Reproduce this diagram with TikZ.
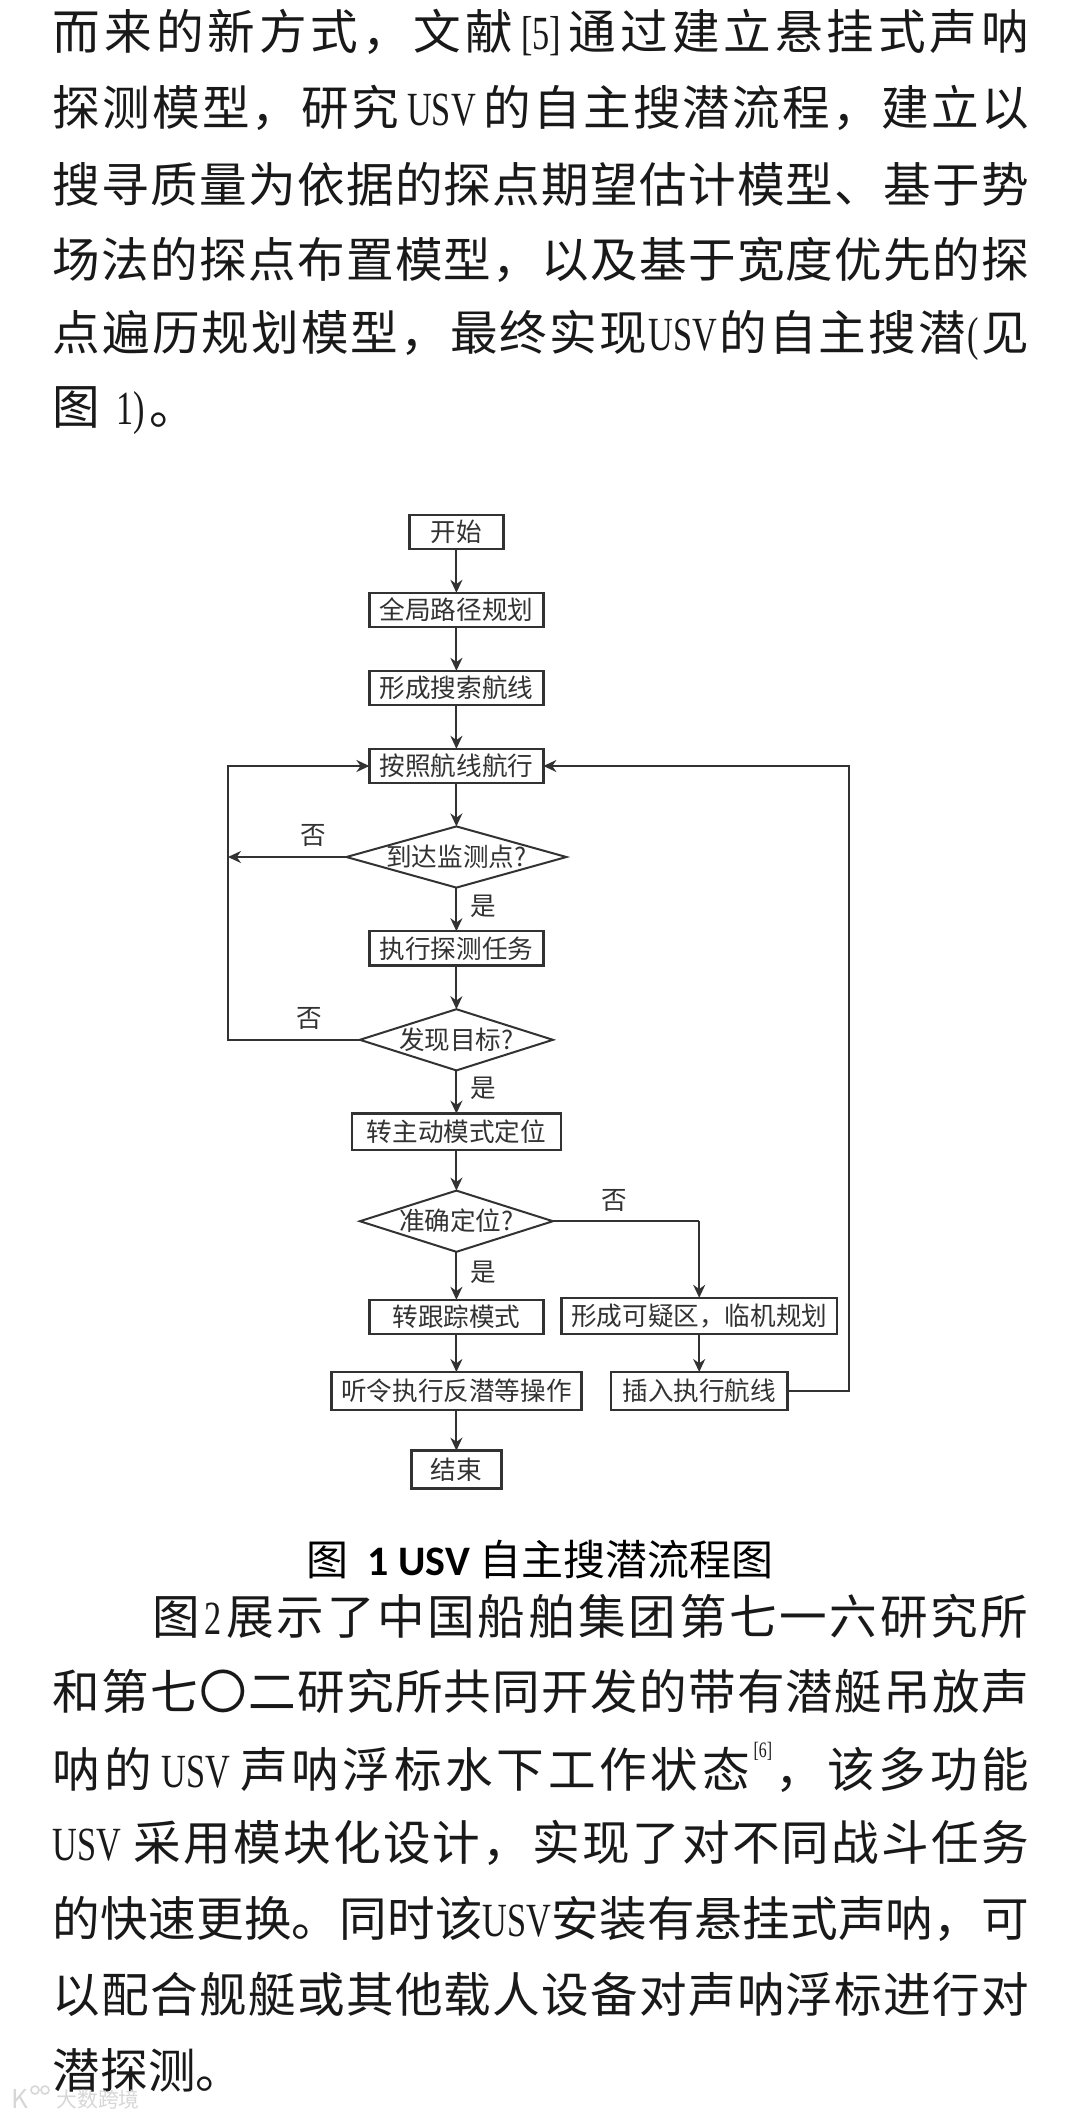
\documentclass[tikz,border=0pt]{standalone}
\usepackage{fontspec}
\usepackage{xcolor}
\usetikzlibrary{shapes.geometric,arrows.meta,positioning,calc}
\setmainfont{Noto Sans CJK SC}
\newfontfamily\latinpart[FakeStretch=0.72]{Liberation Serif}
\newfontfamily\capfont{Carlito}
\definecolor{flowink}{RGB}{50,50,50}
\definecolor{bodyink}{RGB}{25,25,25}
\definecolor{markgray}{RGB}{215,215,215}
\makeatletter
\newcommand{\spreadchars}[1]{#1\@ifnextchar\relax{\@gobble}{\hfil\spreadchars}}
\makeatother
\newcommand{\fullline}[1]{\hbox to 488pt{\spreadchars#1\relax}}
\newcommand{\indentline}[1]{\hbox to 438pt{\spreadchars#1\relax}}
\newcommand{\lat}[1]{{\latinpart #1}}
\newcommand{\decisiontext}[1]{\smash{\makebox[0pt]{\raisebox{-.38em}{#1}}}}

\begin{document}
\begin{tikzpicture}[
    x=1pt, y=1pt,
    node distance=21.8pt,
    box/.style={rectangle, draw=flowink, line width=1.2pt, outer sep=0pt, text=flowink, minimum width=87pt, minimum height=17.2pt, inner sep=0pt, font=\fontsize{12.8}{14}\selectfont},
    decision/.style={diamond, draw=flowink, line width=1pt, outer sep=0pt, text=flowink, inner sep=0pt, minimum width=110pt, minimum height=30.6pt, font=\fontsize{12.8}{14}\selectfont},
    arrow/.style={-{Stealth[length=6.5pt,width=6pt]}, flowink, line width=1pt},
    flowline/.style={flowink, line width=1pt},
    flowlabel/.style={font=\fontsize{12.8}{14}\selectfont, text=flowink, inner sep=1.5pt},
    textline/.style={anchor=west, inner sep=0pt, text=bodyink, font=\fontsize{23.8}{26}\selectfont},
    nextline/.style={below=37.85pt of #1.west, anchor=west}
]
\useasboundingbox (0,0) rectangle (540,-1058);
\fill[white] (0,0) rectangle (540,-1058);

% Text above the figure
\node[textline] (top1) at (26.3,-16.3) {\fullline{而来的新方式，文献{\kern2pt\lat{[5]}\kern2pt}通过建立悬挂式声呐}};
\node[textline, nextline=top1] (top2) {\fullline{探测模型，研究{\kern3pt\lat{USV}\kern3pt}的自主搜潜流程，建立以}};
\node[textline, nextline=top2] (top3) {\fullline{搜寻质量为依据的探点期望估计模型、基于势}};
\node[textline, nextline=top3] (top4) {\fullline{场法的探点布置模型，以及基于宽度优先的探}};
\node[textline, nextline=top4] (top5) {\fullline{点遍历规划模型，最终实现{\lat{USV}}的自主搜潜{\lat{(}}见}};
\node[textline, nextline=top5] (top6) {图\kern8pt\lat{1)}\kern2pt。};

% Main flow
\node[box, minimum width=47pt] (start) at (228.2,-266) {开始};
\node[box, below=of start] (global) {全局路径规划};
\node[box, below=of global] (route) {形成搜索航线};
\node[box, below=of route] (sail) {按照航线航行};
\node[decision, below=21.6pt of sail] (arrive) {\decisiontext{到达监测点?}};
\node[box, below=of arrive] (probe) {执行探测任务};
\node[decision, minimum width=96.5pt, below=of probe] (found) {\decisiontext{发现目标?}};
\node[box, minimum width=104.6pt, minimum height=18.2pt, below=21.6pt of found] (active) {转主动模式定位};
\node[decision, minimum width=96.5pt, below=20.3pt of active] (locate) {\decisiontext{准确定位?}};
\node[box, below=24pt of locate] (track) {转跟踪模式};
\node[box, minimum width=125pt, minimum height=19pt, below=18.9pt of track] (order) {听令执行反潜等操作};
\node[box, minimum width=45pt, minimum height=19pt, below=20.3pt of order] (finish) {结束};

% Replanning branch
\node[box, minimum width=137.7pt, minimum height=18.2pt] (suspect) at (349.6,-658) {形成可疑区，临机规划};
\node[box, minimum width=88.4pt, minimum height=19pt, below=18.9pt of suspect] (insert) {插入执行航线};

% Rails
\coordinate (leftrail) at (114,-400);
\coordinate (rightrail) at (424.6,-400);
\coordinate (turn) at (locate.east -| suspect.north);

% Arrows
\draw[arrow] (start) -- (global);
\draw[arrow] (global) -- (route);
\draw[arrow] (route) -- (sail);
\draw[arrow] (sail) -- (arrive);
\draw[arrow] (arrive) -- node[right=5pt, flowlabel, pos=.42] (yes1) {是} (probe);
\draw[arrow] (probe) -- (found);
\draw[arrow] (found) -- node[right=5pt, flowlabel, pos=.42] (yes2) {是} (active);
\draw[arrow] (active) -- (locate);
\draw[arrow] (locate) -- node[right=5pt, flowlabel, pos=.42] (yes3) {是} (track);
\draw[arrow] (track) -- (order);
\draw[arrow] (order) -- (finish);
\draw[arrow] (suspect) -- (insert);
\draw[arrow] (arrive.west) -- node[above=3pt, flowlabel, pos=.28] (no1) {否} (arrive.west -| leftrail);
\draw[arrow] (found.west) -- node[above=3pt, flowlabel, pos=.38] (no2) {否} (found.west -| leftrail) |- (sail.west);
\draw[flowline] (locate.east) -- node[above=3pt, flowlabel, pos=.42] (no3) {否} (turn);
\draw[arrow] (turn) -- (suspect.north);
\draw[arrow] (insert.east) -- (insert.east -| rightrail) |- (sail.east);

% Caption
\node[inner sep=0pt, text=black, font=\fontsize{21}{24}\selectfont] (caption) at (270,-779.6) {图\ \ {\capfont\bfseries 1 USV} 自主搜潜流程图};

% Text below the figure
\node[textline] (low1) at (76,-808) {\indentline{图{\kern1pt\lat{2}\kern1pt}展示了中国船舶集团第七一六研究所}};
\node[textline, nextline=low1, xshift=-49.7pt] (low2) {\fullline{和第七〇二研究所共同开发的带有潜艇吊放声}};
\node[textline, nextline=low2] (low3) {\fullline{呐的{\kern3pt\lat{USV}\kern3pt}声呐浮标水下工作状态{\raisebox{.62em}{\fontsize{11}{12}\selectfont\lat{[6]}}}，该多功能}};
\node[textline, nextline=low3] (low4) {\fullline{{\lat{USV}\kern5pt}采用模块化设计，实现了对不同战斗任务}};
\node[textline, nextline=low4] (low5) {\fullline{的快速更换。同时该{\lat{USV}}安装有悬挂式声呐，可}};
\node[textline, nextline=low5] (low6) {\fullline{以配合舰艇或其他载人设备对声呐浮标进行对}};
\node[textline, nextline=low6] (low7) {潜探测。};

% Watermark
\node[inner sep=0pt, text=markgray, font=\fontsize{10.4}{12}\selectfont] (mark) at (49,-1050) {大数跨境};
\node[inner sep=0pt, text=markgray, font=\fontsize{13}{14}\selectfont] (logo) at (10,-1049.5) {K};
\draw[markgray, line width=.8pt] (17.5,-1045) circle (2pt) (22.5,-1045) circle (2pt);

\end{tikzpicture}
\end{document}
